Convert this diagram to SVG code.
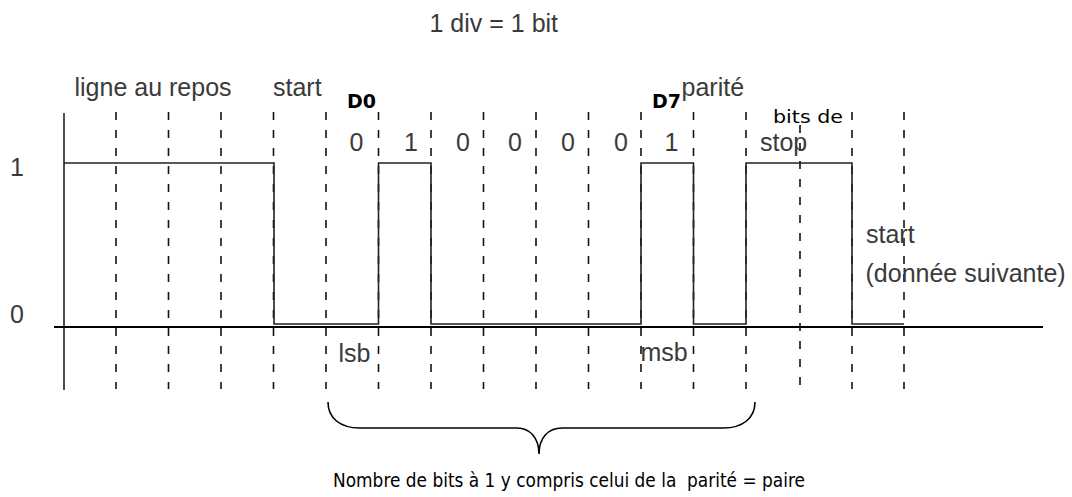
<svg xmlns="http://www.w3.org/2000/svg" width="1072" height="497" viewBox="0 0 1072 497">
<style>
.lbl{font-family:"Liberation Sans",Arial,sans-serif;font-size:25px;fill:#3a3a3a}
.cm{font-family:"DejaVu Sans","Liberation Sans",sans-serif;fill:#000}
.dash{stroke:#111;stroke-width:1.6;stroke-dasharray:8 10;fill:none}
.sig{stroke:#222;stroke-width:1.6;fill:none}
</style>
<rect width="1072" height="497" fill="#fff"/>
<g id="grid">
<line class="dash" x1="116" y1="112" x2="116" y2="389"/>
<line class="dash" x1="168.5" y1="112" x2="168.5" y2="389"/>
<line class="dash" x1="221" y1="112" x2="221" y2="389"/>
<line class="dash" x1="273.5" y1="112" x2="273.5" y2="389"/>
<line class="dash" x1="326" y1="112" x2="326" y2="389"/>
<line class="dash" x1="378.5" y1="112" x2="378.5" y2="389"/>
<line class="dash" x1="431" y1="112" x2="431" y2="389"/>
<line class="dash" x1="483.5" y1="112" x2="483.5" y2="389"/>
<line class="dash" x1="536" y1="112" x2="536" y2="389"/>
<line class="dash" x1="588.5" y1="112" x2="588.5" y2="389"/>
<line class="dash" x1="641" y1="112" x2="641" y2="389"/>
<line class="dash" x1="693.5" y1="112" x2="693.5" y2="389"/>
<line class="dash" x1="746" y1="112" x2="746" y2="389"/>
<line class="dash" x1="800" y1="125" x2="800" y2="389"/>
<line class="dash" x1="852" y1="112" x2="852" y2="389"/>
<line class="dash" x1="904" y1="112" x2="904" y2="389"/>
</g>
<g id="axes">
<line x1="64" y1="113" x2="64" y2="390" stroke="#222" stroke-width="1.6"/>
<line x1="54" y1="327" x2="1043" y2="327" stroke="#000" stroke-width="2"/>
</g>
<g id="signal">
<path class="sig" d="M64,163 H274 V324 H378.5 V163 H431 V324 H641 V163 H693.5 V324 H746 V163 H852 V324 H904"/>
</g>
<g id="labels">
<text class="lbl" x="429.5" y="32">1 div = 1 bit</text>
<text class="lbl" x="74.5" y="96">ligne au repos</text>
<text class="lbl" x="273" y="96">start</text>
<text class="lbl" x="681.5" y="96">parité</text>
<text class="lbl" x="17" y="176" text-anchor="middle">1</text>
<text class="lbl" x="17" y="323" text-anchor="middle">0</text>
<text class="lbl" x="356.5" y="151" text-anchor="middle">0</text>
<text class="lbl" x="411" y="151" text-anchor="middle">1</text>
<text class="lbl" x="463" y="151" text-anchor="middle">0</text>
<text class="lbl" x="515" y="151" text-anchor="middle">0</text>
<text class="lbl" x="568" y="151" text-anchor="middle">0</text>
<text class="lbl" x="621" y="151" text-anchor="middle">0</text>
<text class="lbl" x="671.5" y="151" text-anchor="middle">1</text>
<text class="lbl" x="760" y="151">stop</text>
<text class="lbl" x="866" y="243">start</text>
<text class="lbl" x="865.5" y="282">(donnée suivante)</text>
<text class="lbl" x="338.5" y="362">lsb</text>
<text class="lbl" x="640.5" y="361">msb</text>
<text class="cm" x="347" y="108" font-size="20" font-weight="bold" textLength="29" lengthAdjust="spacingAndGlyphs">D0</text>
<text class="cm" x="652" y="108" font-size="20" font-weight="bold" textLength="29" lengthAdjust="spacingAndGlyphs">D7</text>
<text class="cm" x="773" y="123" font-size="18" textLength="70" lengthAdjust="spacingAndGlyphs">bits de</text>
<text class="cm" x="333" y="487" font-size="19" textLength="472" lengthAdjust="spacingAndGlyphs" xml:space="preserve">Nombre de bits à 1 y compris celui de la  parité = paire</text>
</g>
<g id="brace">
<path d="M328,402 C328,418 340,428 360,428 L517,428 C530,428 539,438 539,454 C539,438 548,428 562,428 L723,428 C743,428 755,418 755,402" fill="none" stroke="#000" stroke-width="1.6"/>
</g>
</svg>
